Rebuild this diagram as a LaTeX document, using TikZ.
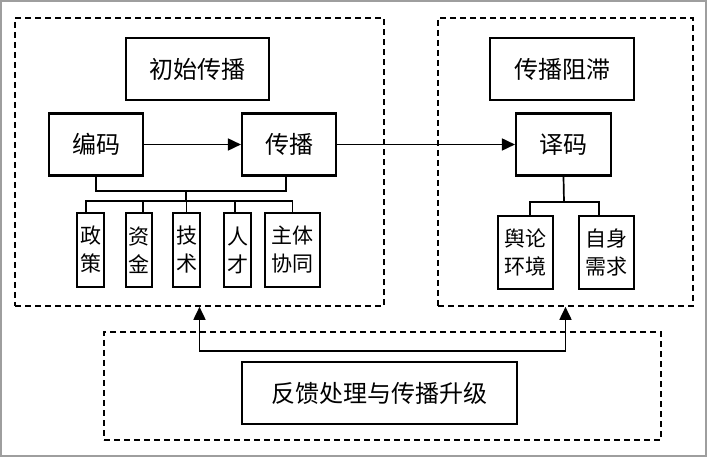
\documentclass[tikz,border=0pt]{standalone}
\usepackage{fontspec}
\newfontfamily\cjk{Noto Sans CJK SC}
\usetikzlibrary{arrows.meta}
\begin{document}
\begin{tikzpicture}[x=1pt,y=-1pt,
  every node/.style={font=\cjk},
  titlebox/.style={draw, line width=2.8pt, inner sep=0pt, font=\cjk\fontsize{24}{28}\selectfont},
  mainbox/.style={draw, line width=2.1pt, inner sep=0pt, font=\cjk\fontsize{24}{28}\selectfont},
  smallbox/.style={draw, line width=1.8pt, inner sep=0pt, align=center, font=\cjk\fontsize{21}{28}\selectfont},
  grpbox/.style={draw, line width=1.6pt, dash pattern=on 6pt off 4pt, inner sep=0pt},
  conn/.style={line width=1.7pt},
  arr/.style={line width=1.7pt, -{Triangle[length=13pt,width=12pt]}},
  darr/.style={line width=1.7pt, {Triangle[length=13pt,width=12pt]}-{Triangle[length=13pt,width=12pt]}}
]
\useasboundingbox (0,0) rectangle (707,457);
\draw[color=black!38, line width=2.2pt] (1.1,1.1) rectangle (705.9,455.9);

% group boxes
\node[grpbox, minimum width=369pt, minimum height=288pt] (leftgrp) at (199.5,162) {};
\node[grpbox, minimum width=255pt, minimum height=288pt] (rightgrp) at (565.5,162) {};
\node[grpbox, minimum width=557pt, minimum height=108pt] (botgrp) at (382.5,386) {};

% left group
\node[titlebox, minimum width=143pt, minimum height=62pt] (init) at (197.5,69) {初始传播};
\node[mainbox, minimum width=94pt, minimum height=62pt] (bianma) at (96,144.5) {编码};
\node[mainbox, minimum width=94pt, minimum height=62pt] (chuanbo) at (289,144.5) {传播};

\node[smallbox, minimum width=27pt, minimum height=74pt] (zc) at (90.5,250) {政\\策};
\node[smallbox, minimum width=26pt, minimum height=74pt] (zj) at (139,250) {资\\金};
\node[smallbox, minimum width=27pt, minimum height=74pt] (js) at (186.5,250) {技\\术};
\node[smallbox, minimum width=27pt, minimum height=74pt] (rc) at (237.5,250) {人\\才};
\node[smallbox, minimum width=55pt, minimum height=74pt] (zt) at (292.5,250) {主体\\协同};

% right group
\node[titlebox, minimum width=144pt, minimum height=62pt] (zuzhi) at (562,69) {传播阻滞};
\node[mainbox, minimum width=95pt, minimum height=62pt] (yima) at (563.5,144.5) {译码};
\node[smallbox, minimum width=55pt, minimum height=73pt] (yl) at (525.5,252.5) {舆论\\环境};
\node[smallbox, minimum width=55pt, minimum height=73pt] (zs) at (606.5,252.5) {自身\\需求};

% bottom
\node[titlebox, minimum width=275pt, minimum height=62pt] (fb) at (379.5,393) {反馈处理与传播升级};

% coordinates
\coordinate (jl) at (186,191);
\coordinate (jb) at (186,201);
\coordinate (rb) at (564,202);
\coordinate (fbline) at (382,351);

% connectors
\draw[arr] (bianma.east) -- (chuanbo.west);
\draw[arr] (chuanbo.east) -- (yima.west);

\draw[conn] (bianma.south) |- (jl) -| ([xshift=-3pt]chuanbo.south);
\draw[conn] (jl) -- (jb);
\draw[conn] ([xshift=-4.5pt]zc.north) -- ([xshift=-4.5pt]zc.north |- jb) -- (zt.north |- jb) -- (zt.north);
\draw[conn] ([xshift=4pt]zj.north) -- ([xshift=4pt]zj.north |- jb);
\draw[conn] (js.north) -- (js.north |- jb);
\draw[conn] ([xshift=-2.5pt]rc.north) -- ([xshift=-2.5pt]rc.north |- jb);

\draw[conn] (yima.south) -- (rb);
\draw[conn] ([xshift=4.5pt]yl.north) |- (rb) -| ([xshift=-7.5pt]zs.north);

\draw[darr] (leftgrp.south) |- (fbline) -| (rightgrp.south);
\end{tikzpicture}
\end{document}
